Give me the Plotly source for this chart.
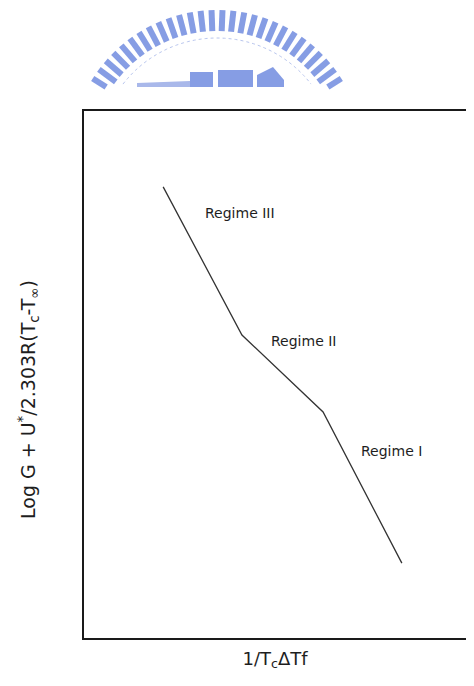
import math
import plotly.graph_objects as go

# The page body has an 8px margin, so the figure is sized to fit inside it.
W, H = 458, 670
OFF = 8  # page offset of the figure

# ---- data (arbitrary units; the schematic has no tick values) ----
x_vals = [20.3, 40.5, 61.3, 81.5]
y_vals = [85.6, 57.5, 42.9, 14.2]
regime_labels = ["Regime III", "Regime II", "Regime I"]
label_x = [30.5, 47.4, 70.5]
label_y = [80.6, 56.4, 35.5]

x_title = "1/T<sub>c</sub>ΔTf"
y_title = "Log G + U<sup>*</sup>/2.303R(T<sub>c</sub>-T<sub>∞</sub>)"

FONT = "DejaVu Sans"
INK = "#1e1e1e"


def px2paper(px, py):
    """page pixel (reference coordinates) -> paper fraction"""
    return (px - OFF) / W, 1 - (py - OFF) / H


fig = go.Figure()
fig.add_trace(go.Scatter(
    x=x_vals, y=y_vals, mode="lines",
    line=dict(color="#333333", width=1.3),
    showlegend=False, hoverinfo="skip",
))

# ---- watermark logo (decorative), drawn in paper coordinates ----
shapes = []
logo_col = "#869de4"
cx, cy, r_out, r_in = 217, 157, 147, 126
clip_y = 87
n = 30
for k in range(n):
    ang = math.radians(28 + k * (152 - 28) / (n - 1))
    x0, y0 = cx - r_out * math.cos(ang), cy - r_out * math.sin(ang)
    x1, y1 = cx - r_in * math.cos(ang), cy - r_in * math.sin(ang)
    if y0 > clip_y:
        continue
    if y1 > clip_y:
        t = (clip_y - y0) / (y1 - y0)
        x1, y1 = x0 + t * (x1 - x0), clip_y
    a, b = px2paper(x0, y0)
    c, d = px2paper(x1, y1)
    shapes.append(dict(type="line", xref="paper", yref="paper",
                       x0=a, y0=b, x1=c, y1=d,
                       line=dict(color=logo_col, width=6)))

# thin inner ring
pts = []
r_ring = 119
for k in range(0, 61):
    ang = math.radians(36 + k * (144 - 36) / 60)
    px_, py_ = cx - r_ring * math.cos(ang), cy - r_ring * math.sin(ang)
    if py_ <= clip_y:
        pts.append(px2paper(px_, py_))
path = "M " + " L ".join(f"{a:.5f},{b:.5f}" for a, b in pts)
shapes.append(dict(type="path", xref="paper", yref="paper", path=path,
                   line=dict(color="#b9c6ee", width=1, dash="dot")))


def poly(points, color):
    p = "M " + " L ".join("{:.5f},{:.5f}".format(*px2paper(x, y)) for x, y in points) + " Z"
    return dict(type="path", xref="paper", yref="paper", path=p,
                fillcolor=color, line=dict(width=0))


shapes.append(poly([(137, 83), (190, 81), (190, 87), (137, 87)], "#a9b8ea"))
shapes.append(poly([(190, 72), (213, 72), (213, 87), (190, 87)], logo_col))
shapes.append(poly([(218, 70), (253, 70), (253, 87), (218, 87)], logo_col))
shapes.append(poly([(257, 75), (273, 67), (284, 80), (284, 87), (257, 87)], logo_col))

# plot box in reference pixels: left 84, top 111, bottom 638; open on the right
left, top, bottom = 84, 111, 638
right = W + OFF
x_scale = 3.9  # px per data unit
x_max = (right - left) / x_scale

# the reference box is cut by the page edge: no right-hand border
a0, b0 = px2paper(right - 3, top + 1.5)
a1, b1 = px2paper(right + 1, bottom - 1.5)
shapes.append(dict(type="rect", xref="paper", yref="paper", layer="above",
                   x0=a0, y0=b1, x1=min(a1, 1.0), y1=b0,
                   fillcolor="white", line=dict(width=0)))

annotations = []
for t, ax_, ay_ in zip(regime_labels, label_x, label_y):
    annotations.append(dict(
        x=ax_, y=ay_, xref="x", yref="y", text=t,
        showarrow=False, xanchor="left", yanchor="middle",
        font=dict(family=FONT, size=14, color=INK),
    ))

yx, yy = px2paper(28, 400)
annotations.append(dict(
    x=yx, y=yy, xref="paper", yref="paper", text=y_title,
    showarrow=False, textangle=-90, xanchor="center", yanchor="middle",
    font=dict(family=FONT, size=19, color=INK),
))

axis_common = dict(showline=True, linecolor="#1a1a1a", linewidth=2,
                   showticklabels=False, ticks="", showgrid=False,
                   zeroline=False, fixedrange=True)

fig.update_layout(
    width=W, height=H,
    margin=dict(l=0, r=0, t=0, b=0),
    paper_bgcolor="white", plot_bgcolor="white",
    xaxis=dict(domain=[(left - OFF) / W, 1], mirror=True, range=[0, x_max],
               title=dict(text=x_title, standoff=13,
                          font=dict(family=FONT, size=18, color=INK)),
               automargin=False, **axis_common),
    yaxis=dict(domain=[1 - (bottom - OFF) / H, 1 - (top - OFF) / H],
               mirror=False, range=[0, 100],
               automargin=False, **axis_common),
    shapes=shapes,
    annotations=annotations,
    showlegend=False,
)

fig.write_html("out.html")
